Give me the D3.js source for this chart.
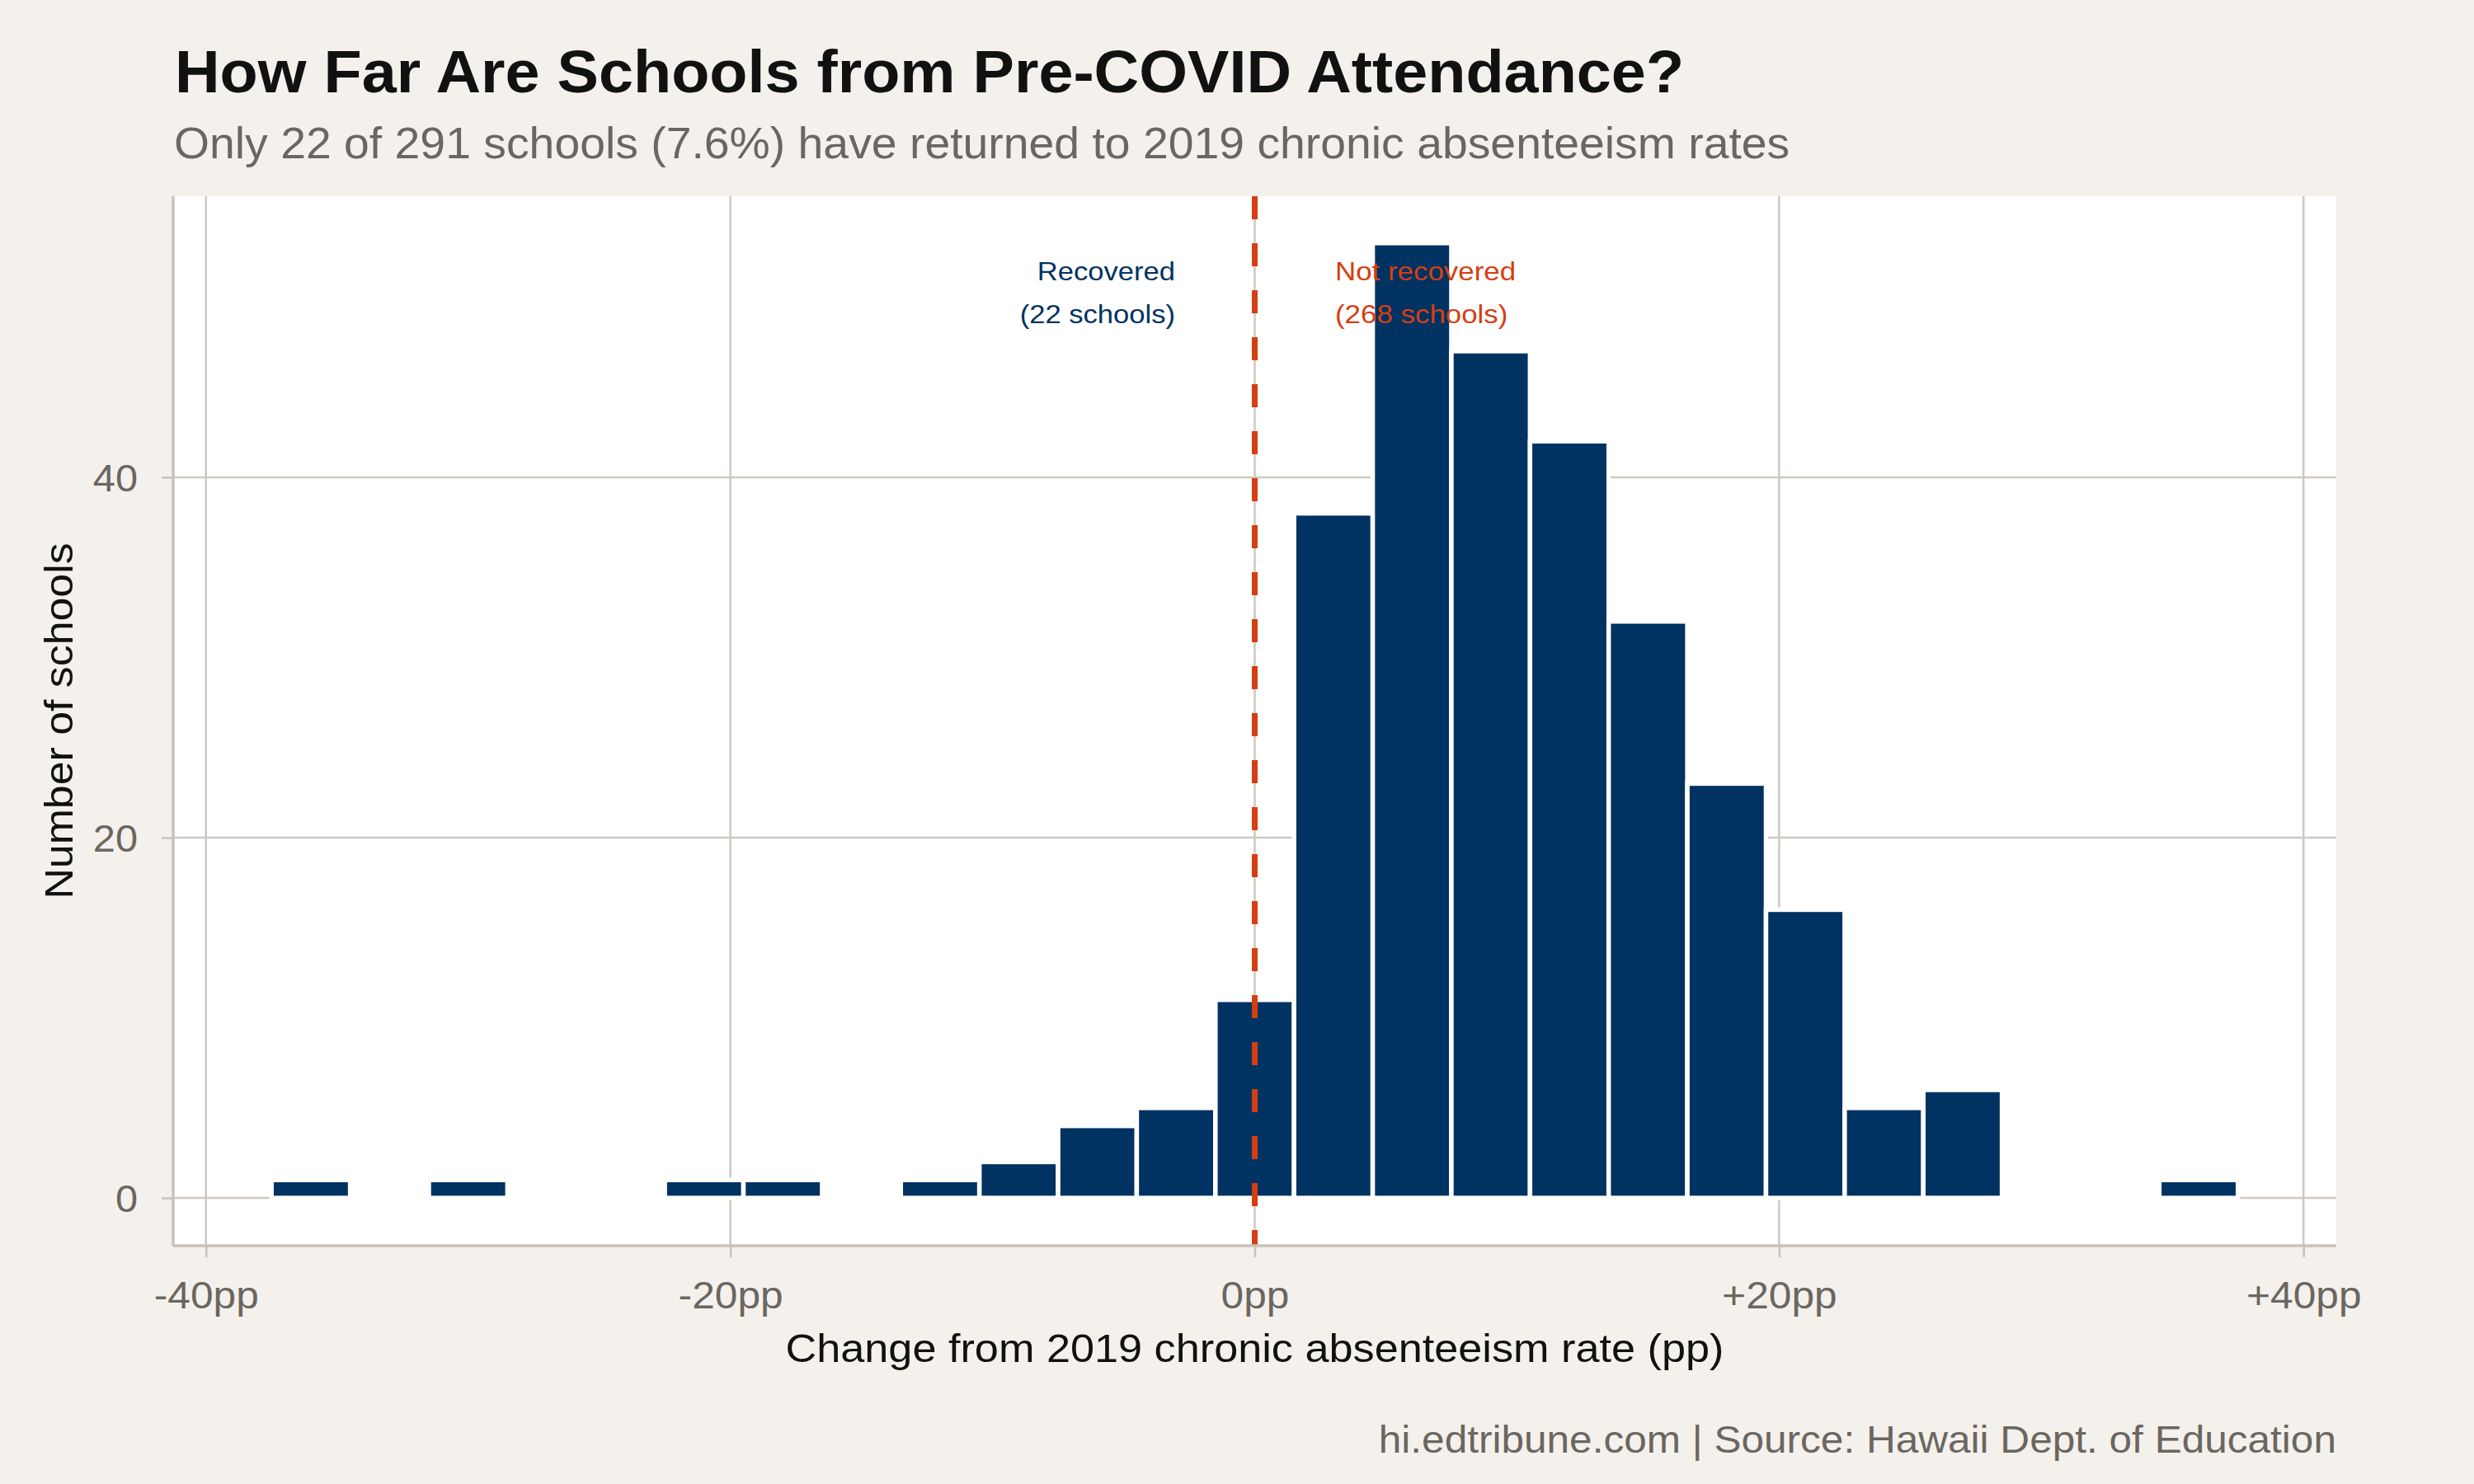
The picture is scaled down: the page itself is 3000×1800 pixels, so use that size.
<!DOCTYPE html>
<html><head><meta charset="utf-8">
<script src="https://cdn.jsdelivr.net/npm/d3@7"></script>
<style>html,body{margin:0;padding:0;background:#f4f1ec;}svg{display:block;}</style>
</head><body>
<script>
// Histogram bins: center of each 3pp bin and the number of schools in it
const binCenters = [-36,-33,-30,-27,-24,-21,-18,-15,-12,-9,-6,-3,0,3,6,9,12,15,18,21,24,27,30,33,36];
const binCounts  = [1,0,1,0,0,1,1,0,1,2,4,5,11,38,53,47,42,32,23,16,5,6,0,0,1];
const binWidth = 3;
const xTicks = [-40,-20,0,20,40];
const xTickLabels = ["-40pp","-20pp","0pp","+20pp","+40pp"];
const yTicks = [0,20,40];
const titleText = "How Far Are Schools from Pre-COVID Attendance?";
const subtitleText = "Only 22 of 291 schools (7.6%) have returned to 2019 chronic absenteeism rates";
const xLabel = "Change from 2019 chronic absenteeism rate (pp)";
const yLabel = "Number of schools";
const captionText = "hi.edtribune.com | Source: Hawaii Dept. of Education";
const recoveredLines = ["Recovered","(22 schools)"];
const notRecoveredLines = ["Not recovered","(268 schools)"];

const W = 3000, H = 1800;
const FONT = "'Liberation Sans', Arial, Helvetica, sans-serif";
const panel = {l:210, r:2833, t:238, b:1511};
const gridCol = "#cdc8c0", axisCol = "#c8c2b8", tickTextCol = "#6b665f";
const barCol = "#003262", redCol = "#d63e12";

// widen text slightly to match the reference typeface's metrics
function widen(sel, f){
  sel.each(function(){
    const w = this.getComputedTextLength();
    d3.select(this).attr("textLength", w*f).attr("lengthAdjust","spacingAndGlyphs");
  });
}

const svg = d3.select("body").append("svg").attr("width",W).attr("height",H);
svg.append("rect").attr("width",W).attr("height",H).attr("fill","#f4f1ec");

const x = d3.scaleLinear().domain([-41.25,41.25]).range([panel.l,panel.r]);
const y = d3.scaleLinear().domain([-2.65,55.6]).range([panel.b,panel.t]);

svg.append("rect").attr("x",panel.l).attr("y",panel.t)
  .attr("width",panel.r-panel.l).attr("height",panel.b-panel.t).attr("fill","#fff");

// gridlines
const g = svg.append("g");
g.selectAll(".vg").data(xTicks).join("line")
  .attr("x1",d=>x(d)).attr("x2",d=>x(d)).attr("y1",panel.t).attr("y2",panel.b)
  .attr("stroke",gridCol).attr("stroke-width",2.5);
g.selectAll(".hg").data(yTicks).join("line")
  .attr("x1",panel.l).attr("x2",panel.r).attr("y1",d=>y(d)).attr("y2",d=>y(d))
  .attr("stroke",gridCol).attr("stroke-width",2.5);

// bars (zero-count bins still draw their white outline, as in the reference)
const bins = binCenters.map((c,i)=>({c, n:binCounts[i]}));
svg.append("g").selectAll("rect").data(bins).join("rect")
  .attr("x",d=>x(d.c-binWidth/2)).attr("width",d=>x(d.c+binWidth/2)-x(d.c-binWidth/2))
  .attr("y",d=>y(d.n)-(d.n===0?0.05:0)).attr("height",d=>Math.max(y(0)-y(d.n),0.1))
  .attr("fill",barCol).attr("stroke","#fff").attr("stroke-width",5.5);

// dashed reference line at 0
svg.append("line").attr("x1",x(0)).attr("x2",x(0)).attr("y1",panel.t).attr("y2",panel.b)
  .attr("stroke",redCol).attr("stroke-width",7).attr("stroke-dasharray","28,29");

// axes
const xAxis = svg.append("g").attr("transform",`translate(0,${panel.b})`)
  .call(d3.axisBottom(x).tickValues(xTicks).tickSize(14).tickFormat((d,i)=>xTickLabels[i]));
const yAxis = svg.append("g").attr("transform",`translate(${panel.l},0)`)
  .call(d3.axisLeft(y).tickValues(yTicks).tickSize(14));
[xAxis,yAxis].forEach(a=>{
  a.select(".domain").remove();
  a.selectAll(".tick line").attr("stroke",axisCol).attr("stroke-width",2.5);
  a.selectAll(".tick text").attr("fill",tickTextCol).attr("font-family",FONT).attr("font-size",46);
});
xAxis.selectAll(".tick text").attr("dy",null).attr("y",76);
yAxis.selectAll(".tick text").attr("x",-43).attr("dy","0.35em");
widen(xAxis.selectAll(".tick text"),1.08);
widen(yAxis.selectAll(".tick text"),1.06);
svg.append("line").attr("x1",panel.l).attr("x2",panel.r).attr("y1",panel.b).attr("y2",panel.b)
  .attr("stroke",axisCol).attr("stroke-width",3.5);
svg.append("line").attr("x1",panel.l).attr("x2",panel.l).attr("y1",panel.t).attr("y2",panel.b)
  .attr("stroke",axisCol).attr("stroke-width",3.5);

// annotations
widen(svg.append("g").selectAll("text").data(recoveredLines).join("text")
  .attr("x",1425).attr("y",(d,i)=>340+i*52).attr("text-anchor","end")
  .attr("font-family",FONT).attr("font-size",32).attr("fill",barCol).text(d=>d),1.08);
widen(svg.append("g").selectAll("text").data(notRecoveredLines).join("text")
  .attr("x",1619).attr("y",(d,i)=>340+i*52).attr("text-anchor","start")
  .attr("font-family",FONT).attr("font-size",32).attr("fill",redCol).text(d=>d),1.09);

// titles
widen(svg.append("text").attr("x",212).attr("y",112).attr("font-family",FONT).attr("font-weight","bold")
  .attr("font-size",72).attr("fill","#111").text(titleText),1.05);
widen(svg.append("text").attr("x",211).attr("y",192).attr("font-family",FONT)
  .attr("font-size",53).attr("fill",tickTextCol).text(subtitleText),1.044);
widen(svg.append("text").attr("x",(panel.l+panel.r)/2).attr("y",1652).attr("text-anchor","middle")
  .attr("font-family",FONT).attr("font-size",48).attr("fill","#111").text(xLabel),1.088);
widen(svg.append("text").attr("transform",`translate(88,${(panel.t+panel.b)/2}) rotate(-90)`)
  .attr("text-anchor","middle").attr("font-family",FONT).attr("font-size",48).attr("fill","#111").text(yLabel),1.08);
widen(svg.append("text").attr("x",panel.r).attr("y",1762).attr("text-anchor","end")
  .attr("font-family",FONT).attr("font-size",46).attr("fill",tickTextCol).text(captionText),1.077);
</script>
</body></html>
